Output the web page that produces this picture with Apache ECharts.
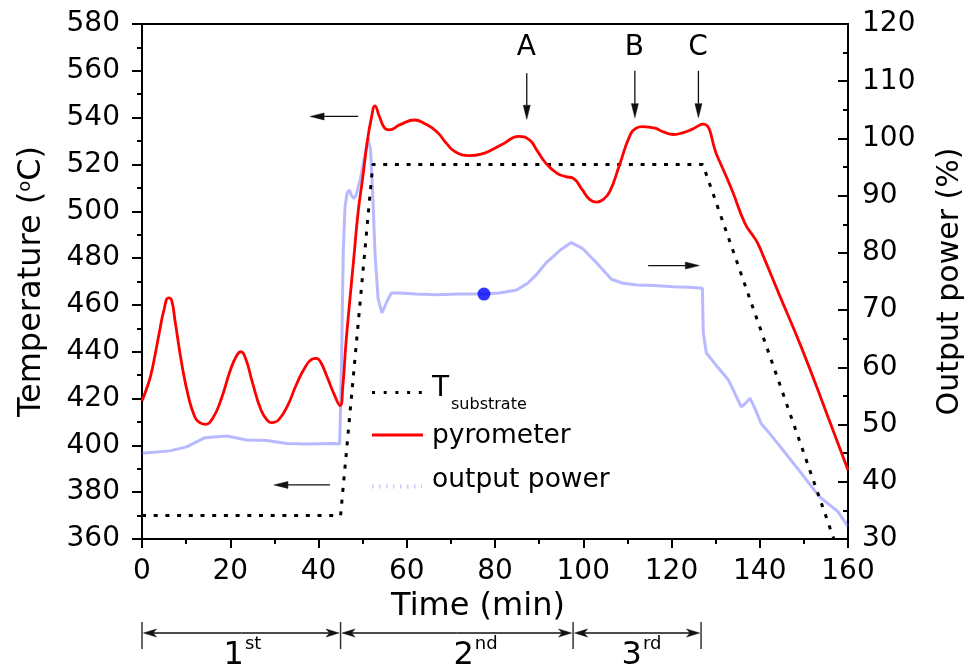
<!DOCTYPE html>
<html><head><meta charset="utf-8">
<script src="https://cdn.jsdelivr.net/npm/echarts@6/dist/echarts.min.js"></script>
<style>html,body{margin:0;padding:0;background:#fff}#c{width:973px;height:668px}</style>
</head><body><div id="c"></div>
<script>
// ---- data ----
const subTime = [0, 45, 52.3, 127.1, 156.8];
const subTemp = [370, 370, 520, 520, 360];

const pyroTime = [0,1,2,3,4,5,6,6.7,7.5,9,10.5,12,13,14.3,16,18,20,21.5,22.4,23.5,25,27,28.5,29.4,31,33,35,37,38.5,39.5,40.5,42,43.5,44.9,45.5,46.2,47,48,49,50,51,52,52.8,53.8,55,56,58.5,61.8,64,66.8,69,70.9,74.2,77,79.2,82,85.3,87.8,89.5,91.5,94,96,97.7,99.8,101.5,103.1,104.5,106,108.1,110.5,112,113.4,116.3,118,120.5,122.5,124.6,127.1,130.4,133.7,136.6,138.6,139.5,141,144.4,149.3,155,160];
const pyroTemp = [419,424,430,439,449,458,463,462,453,435,421,412,409.8,409,411.5,420,432,438.5,440,437,427,415,410.5,409.7,411,417,426,433.5,436.8,437.2,435.5,429,422,417,425,443,460,480,500,514,529,540,545,540.5,535.5,534.8,537,539,537.5,534,529,525.5,523.8,524.5,526.2,529,532,530.5,526,520.6,516.3,514.8,514.1,509.1,505,503.9,505,508.4,519.1,532,535.5,536.2,535.5,534,532.8,533.5,535,537.2,523.4,509.1,495,489.2,486.5,480,464.5,442.5,414.5,389.5];

const powerTime = [0,6.3,10.1,14.3,19.2,23.7,28.3,32.8,37.3,43.4,44.8,45.2,45.6,46,46.5,47,47.5,48,48.5,49.5,50.5,51.2,51.8,52.3,52.8,53.5,54.4,55.5,56.5,58.5,62,66.8,72,77.3,81,84.9,87.4,89.5,91.5,94.8,97.3,99.8,103.1,106.4,109,112.2,116,120.5,124,127,127.2,127.9,130.5,132.9,135.8,136.5,137.8,138.8,140.3,142.5,145.2,149.4,153.5,157.7,160];
const powerValue = [45.0,45.4,46.1,47.7,48.0,47.3,47.2,46.7,46.6,46.7,46.6,60,80,88,90.5,91,90,89.5,90,93,97,100,98,90,80,72,69.5,71.5,73,73,72.8,72.7,72.8,72.8,73,73.5,74.7,76.3,78.2,80.5,81.8,80.8,78.2,75.4,74.7,74.4,74.3,74.1,74,73.8,66,62.5,60,57.8,53.1,53.5,54.6,53,50.2,48.2,45.6,41.5,37.4,34.8,32.2];

const markerTime = [77.5];
const markerValue = [72.8];

// annotations (data coordinates, left axis)
const letterText = ['A', 'B', 'C'];
const letterTime = [87.1, 111.6, 126.0];
const letterTemp = [569.8, 569.8, 569.8];
const arrowFrom = [[87.2,559],[111.7,560],[126.1,560],[49,540.5],[42.6,383.1],[114.7,476.8]];
const arrowTo   = [[87.2,539.3],[111.7,540],[126.1,540],[38.1,540.5],[29.9,383.1],[126.3,476.8]];

const stageBounds = [0, 45, 97.7, 126.7];
const stageMain = ['1', '2', '3'];
const stageSup = ['st', 'nd', 'rd'];
const stageLabelTime = [23.1, 75.2, 113.3];

const FONT = "'DejaVu Sans', sans-serif";

const zip = (a, b) => a.map((v, i) => [v, b[i]]);

const chart = echarts.init(document.getElementById('c'), null, {renderer: 'canvas'});

const axisCommon = {
  axisLine: {show: true, onZero: false, lineStyle: {color: '#000', width: 2}},
  axisTick: {show: true, length: 9, lineStyle: {color: '#000', width: 2}},
  minorTick: {show: true, splitNumber: 2, length: 5, lineStyle: {color: '#000', width: 2}},
  splitLine: {show: false},
  axisLabel: {color: '#000', fontSize: 28, fontFamily: FONT}
};

chart.setOption({
  animation: false,
  backgroundColor: '#fff',
  grid: {left: 142, right: 125, top: 24, bottom: 129, show: true, borderColor: '#000', borderWidth: 2, containLabel: false},
  xAxis: Object.assign({}, axisCommon, {
    type: 'value', min: 0, max: 160, interval: 20,
    axisLabel: Object.assign({}, axisCommon.axisLabel, {margin: 19}),
    name: 'Time (min)', nameLocation: 'middle', nameGap: 50,
    nameTextStyle: {color: '#000', fontSize: 32, fontFamily: FONT, padding: [0, 34, 0, 0]}
  }),
  yAxis: [
    Object.assign({}, axisCommon, {
      type: 'value', min: 360, max: 580, interval: 20, position: 'left',
      axisTick: {show: true, length: 10, lineStyle: {color: '#000', width: 2}},
      axisLabel: Object.assign({}, axisCommon.axisLabel, {margin: 22}),
      name: 'Temperature ({s|o}C)', nameLocation: 'middle', nameGap: 94, nameRotate: 90,
      nameTextStyle: {color: '#000', fontSize: 32, fontFamily: FONT,
        rich: {s: {fontSize: 18, fontFamily: FONT, color: '#000', verticalAlign: 'top', lineHeight: 14}}}
    }),
    Object.assign({}, axisCommon, {
      type: 'value', min: 30, max: 120, interval: 10, position: 'right',
      axisTick: {show: true, inside: true, length: 10, lineStyle: {color: '#000', width: 2}},
      minorTick: {show: true, splitNumber: 2, length: 5, lineStyle: {color: '#000', width: 2}},
      axisLabel: Object.assign({}, axisCommon.axisLabel, {margin: 14}),
      name: 'Output power (%)', nameLocation: 'middle', nameGap: 87, nameRotate: 90,
      nameTextStyle: {color: '#000', fontSize: 30, fontFamily: FONT}
    })
  ],
  series: [
    {
      name: 'output power', type: 'line', yAxisIndex: 1, showSymbol: false, z: 1,
      data: zip(powerTime, powerValue),
      lineStyle: {color: 'rgba(100,100,255,0.45)', width: 3}
    },
    {
      name: 'T substrate', type: 'line', yAxisIndex: 0, showSymbol: false, z: 2,
      data: zip(subTime, subTemp),
      lineStyle: {color: '#000', width: 3, type: [4, 7.7]}
    },
    {
      name: 'pyrometer', type: 'line', yAxisIndex: 0, showSymbol: false, z: 3,
      smooth: 0.5,
      data: zip(pyroTime, pyroTemp),
      lineStyle: {color: '#ff0000', width: 2.8}
    },
    {
      name: 'marker', type: 'scatter', yAxisIndex: 1, z: 4,
      data: zip(markerTime, markerValue),
      symbolSize: 13, itemStyle: {color: '#0000ff'}
    }
  ]
});

// ---- annotations as graphics ----
const px = (x, y) => chart.convertToPixel({xAxisIndex: 0, yAxisIndex: 0}, [x, y]);
const els = [];

function arrow(p1, p2, opt) {
  const dx = p2[0] - p1[0], dy = p2[1] - p1[1];
  const len = Math.hypot(dx, dy);
  const ux = dx / len, uy = dy / len, nx = -uy, ny = ux;
  const L = opt.head || 14, W = opt.half || 3.5, notch = opt.notch || 0;
  const bx = p2[0] - ux * L, by = p2[1] - uy * L;
  els.push({type: 'line', silent: true, z: 50,
    shape: {x1: p1[0], y1: p1[1], x2: bx + ux * notch, y2: by + uy * notch},
    style: {stroke: opt.color || '#000', lineWidth: opt.width || 1.4}});
  const pts = [p2, [bx + nx * W, by + ny * W]];
  if (notch) pts.push([bx + ux * notch, by + uy * notch]);
  pts.push([bx - nx * W, by - ny * W]);
  els.push({type: 'polygon', silent: true, z: 50, shape: {points: pts},
    style: {fill: opt.color || '#000', stroke: opt.color || '#000', lineWidth: 0.5}});
}

arrowFrom.forEach((f, i) => arrow(px(f[0], f[1]), px(arrowTo[i][0], arrowTo[i][1]), {head: 14, half: 3.5, width: 1.3, color: '#111'}));

letterText.forEach((t, i) => {
  const p = px(letterTime[i], letterTemp[i]);
  els.push({type: 'text', z: 50, x: p[0], y: p[1], style: {text: t, fill: '#000', font: '28px ' + FONT, align: 'center', verticalAlign: 'middle'}});
});

// stage bar below axis
const stageY = 633;
stageBounds.forEach(b => {
  const x = px(b, 400)[0];
  els.push({type: 'line', z: 50, shape: {x1: x, y1: 622, x2: x, y2: 649}, style: {stroke: '#333', lineWidth: 1.5}});
});
for (let i = 0; i < stageBounds.length - 1; i++) {
  const xa = px(stageBounds[i], 400)[0] + 1.5, xb = px(stageBounds[i + 1], 400)[0] - 1.5;
  const mid = (xa + xb) / 2;
  arrow([mid, stageY], [xb, stageY], {head: 13, half: 4, notch: 3.5, width: 1.3, color: '#111'});
  arrow([mid, stageY], [xa, stageY], {head: 13, half: 4, notch: 3.5, width: 1.3, color: '#111'});
  const lx = px(stageLabelTime[i], 400)[0];
  els.push({type: 'text', z: 50, x: lx, y: 655.5, style: {text: stageMain[i], fill: '#000', font: '32px ' + FONT, align: 'right', verticalAlign: 'middle'}});
  els.push({type: 'text', z: 50, x: lx + 1, y: 644, style: {text: stageSup[i], fill: '#000', font: '18px ' + FONT, align: 'left', verticalAlign: 'middle'}});
}

// legend (inside the plot)
els.push({type: 'line', z: 50, shape: {x1: 372, y1: 392.5, x2: 422, y2: 392.5}, style: {stroke: '#000', lineWidth: 3, lineDash: [3, 8.7]}});
els.push({type: 'text', z: 50, x: 432, y: 389, style: {text: 'T', fill: '#000', font: '28px ' + FONT, align: 'left', verticalAlign: 'middle'}});
els.push({type: 'text', z: 50, x: 451, y: 405, style: {text: 'substrate', fill: '#000', font: '16px ' + FONT, align: 'left', verticalAlign: 'middle'}});
els.push({type: 'line', z: 50, shape: {x1: 372, y1: 435, x2: 423, y2: 435}, style: {stroke: '#ff0000', lineWidth: 3}});
els.push({type: 'text', z: 50, x: 432, y: 436, style: {text: 'pyrometer', fill: '#000', font: '26.5px ' + FONT, align: 'left', verticalAlign: 'middle'}});
els.push({type: 'line', z: 50, shape: {x1: 372, y1: 486.5, x2: 422, y2: 486.5}, style: {stroke: 'rgba(130,130,255,0.45)', lineWidth: 4, lineDash: [1.5, 5.5]}});
els.push({type: 'text', z: 50, x: 432, y: 480, style: {text: 'output power', fill: '#000', font: '26.5px ' + FONT, align: 'left', verticalAlign: 'middle'}});

chart.setOption({graphic: els});
</script>
</body></html>
